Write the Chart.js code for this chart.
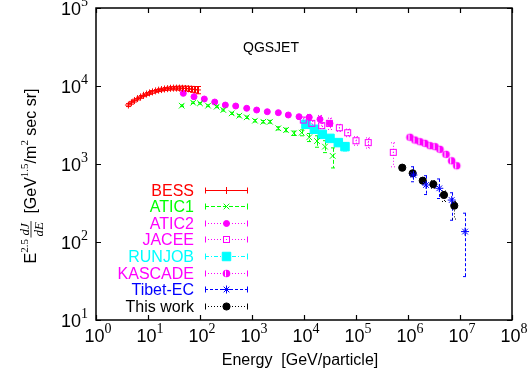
<!DOCTYPE html>
<html>
<head>
<meta charset="utf-8">
<script src="https://cdn.jsdelivr.net/npm/chart.js@4.4.1/dist/chart.umd.min.js"></script>
<style>
  body { margin: 0; background: #fff; }
  canvas { display: block; }
</style>
</head>
<body>
<canvas id="chart" width="530" height="374"></canvas>
<script>
// Energy [GeV/particle] and E^2.5 dJ/dE values

const bessE = [4.2, 4.8, 5.5, 6.3, 7.2, 8.2, 9.4, 10.7, 12.2, 14.0, 16.0, 18.2, 20.8, 23.8, 27.1, 31.0, 35.4, 40.4, 46.1, 52.7, 60.2, 68.7, 78.5, 89.6];
const bessF = [5700, 6100, 6500, 6900, 7250, 7600, 7900, 8150, 8400, 8650, 8850, 9000, 9150, 9250, 9350, 9400, 9400, 9400, 9350, 9300, 9200, 9100, 9000, 8900];
const bessErr = [250, 250, 260, 280, 290, 300, 320, 330, 340, 350, 360, 380, 400, 420, 450, 480, 520, 560, 600, 650, 700, 780, 850, 950];

const atic1E = [44.5, 74, 100, 143, 209, 281, 407, 570, 791, 1140, 1650, 2220, 3210, 4510, 6420, 9030, 12600, 17800, 25300, 35600];
const atic1F = [5590, 6110, 6000, 5590, 5430, 4920, 4460, 4160, 3970, 3590, 3480, 3480, 2870, 2730, 2480, 2520, 2200, 1970, 1670, 1270];
const atic1Up = [150, 150, 150, 150, 150, 150, 140, 140, 140, 130, 130, 140, 130, 140, 160, 220, 260, 330, 320, 340];
const atic1Dn = [150, 150, 150, 150, 150, 150, 140, 140, 140, 130, 130, 140, 130, 140, 160, 220, 260, 330, 270, 380];

const atic2E = [47.7, 76.7, 121, 192, 307, 486, 791, 1230, 1970, 3210, 4990, 8020, 12600, 20300, 31600];
const atic2F = [8050, 7290, 6810, 6230, 5700, 5540, 5180, 4920, 4680, 4550, 4250, 4040, 3970, 3740, 3320];
const atic2Err = [250, 220, 200, 180, 170, 170, 160, 160, 160, 170, 180, 250, 350, 450, 550];

const jaceeE = [9700, 14100, 21900, 30700, 47800, 69200, 100000, 172000, 521000];
const jaceeF = [3660, 3320, 3100, 3320, 2920, 2520, 1990, 1880, 1410];
const jaceeUp = [250, 250, 250, 300, 300, 280, 250, 280, 460];
const jaceeDn = [250, 250, 250, 300, 300, 280, 250, 280, 490];

const runjobE = [10900, 15800, 22500, 31600, 45700, 61400];
const runjobF = [3230, 2790, 2400, 2130, 1880, 1670];
const runjobErr = [200, 200, 180, 170, 160, 200];

const kascadeE = [1.09e6, 1.36e6, 1.70e6, 2.12e6, 2.65e6, 3.31e6, 4.12e6, 5.38e6, 6.92e6, 8.64e6];
const kascadeF = [2200, 2030, 1930, 1840, 1720, 1670, 1540, 1330, 1100, 950];
const kascadeErr = [60, 60, 60, 60, 60, 60, 60, 60, 60, 60];

const tibetE = [1.27e6, 2.22e6, 4.0e6, 6.92e6, 1.25e7];
const tibetF = [722, 538, 488, 345, 136];
const tibetUp = [200, 170, 155, 83, 98];
const tibetDn = [130, 132, 127, 155, 100];

const thisE = [7.76e5, 1.23e6, 1.92e6, 3.07e6, 4.92e6, 7.76e6];
const thisF = [897, 760, 611, 550, 401, 292];
const thisUp = [40, 40, 55, 60, 50, 40];
const thisDn = [40, 40, 50, 60, 70, 95];

// axis decades
const xDecades = [0, 1, 2, 3, 4, 5, 6, 7, 8];
const yDecades = [1, 2, 3, 4, 5];

const SANS = '"Liberation Sans", Arial, Helvetica, sans-serif';
const SERIF = '"Liberation Serif", "Times New Roman", serif';

// Custom point shapes
function makeMarker(draw) {
    const c = document.createElement('canvas');
    c.width = 11; c.height = 11;
    draw(c.getContext('2d'));
    return c;
}

const jaceeMarker = makeMarker(g => {
    g.strokeStyle = '#ff00ff';
    g.fillStyle = '#ff00ff';
    g.lineWidth = 1;
    g.strokeRect(2.5, 2.5, 6, 6);
    g.fillRect(5, 5, 1, 1);
});

const kascadeMarker = makeMarker(g => {
    g.fillStyle = '#ff00ff';
    g.beginPath();
    g.arc(5.5, 5.5, 3.8, 0, Math.PI * 2);
    g.fill();
    g.fillStyle = '#ffffff';
    g.fillRect(4, 2.5, 1, 6);
});

const SERIES = [
    { label: 'BESS', E: bessE, F: bessF, up: bessErr, dn: bessErr, color: '#ff0000', dash: [], style: 'cross', r: 3.5 },
    { label: 'ATIC1', E: atic1E, F: atic1F, up: atic1Up, dn: atic1Dn, color: '#00ff00', dash: [4, 2], style: 'crossRot', r: 4 },
    { label: 'ATIC2', E: atic2E, F: atic2F, up: atic2Err, dn: atic2Err, color: '#ff00ff', dash: [1, 2], style: 'circle', r: 3 },
    { label: 'JACEE', E: jaceeE, F: jaceeF, up: jaceeUp, dn: jaceeDn, color: '#ff00ff', dash: [1, 2], style: jaceeMarker, r: 4 },
    { label: 'RUNJOB', E: runjobE, F: runjobF, up: runjobErr, dn: runjobErr, color: '#00ffff', dash: [4, 2, 1, 2], style: 'rect', r: 6 },
    { label: 'KASCADE', E: kascadeE, F: kascadeF, up: kascadeErr, dn: kascadeErr, color: '#ff00ff', dash: [1, 2], style: kascadeMarker, r: 4 },
    { label: 'Tibet-EC', E: tibetE, F: tibetF, up: tibetUp, dn: tibetDn, color: '#0000ff', dash: [3, 2], style: 'star', r: 4 },
    { label: 'This work', E: thisE, F: thisF, up: thisUp, dn: thisDn, color: '#000000', dash: [1, 2], style: 'circle', r: 3.6 }
];

// Error bars drawn through the chart scales
const errorBars = {
    id: 'errorBars',
    beforeDatasetsDraw(chart) {
        const { ctx, chartArea: a, scales: { x, y } } = chart;
        ctx.save();
        ctx.beginPath();
        ctx.rect(a.left, a.top, a.right - a.left, a.bottom - a.top);
        ctx.clip();
        ctx.lineWidth = 1;
        SERIES.forEach(s => {
            ctx.strokeStyle = s.color;
            ctx.setLineDash(s.dash);
            s.E.forEach((e, i) => {
                const px = Math.round(x.getPixelForValue(e)) + 0.5;
                const top = y.getPixelForValue(s.F[i] + s.up[i]);
                const bot = y.getPixelForValue(s.F[i] - s.dn[i]);
                ctx.beginPath();
                ctx.moveTo(px, top); ctx.lineTo(px, bot);
                ctx.moveTo(px - 2.5, top); ctx.lineTo(px + 2.5, top);
                ctx.moveTo(px - 2.5, bot); ctx.lineTo(px + 2.5, bot);
                ctx.stroke();
            });
        });
        ctx.restore();
    }
};

// draw "10" with a raised exponent; align: 'right' or 'center'
function powerLabel(ctx, exp, x, y, align) {
    ctx.font = '18px ' + SANS;
    const base = ctx.measureText('10').width;
    ctx.font = '14px ' + SERIF;
    const sup = ctx.measureText(String(exp)).width;
    const total = base + sup;
    const x0 = align === 'right' ? x - total : x - total / 2;
    ctx.textAlign = 'left';
    ctx.font = '18px ' + SANS;
    ctx.fillText('10', x0, y);
    ctx.font = '14px ' + SERIF;
    ctx.fillText(String(exp), x0 + base, y - 9);
}

// Frame, ticks, labels, title and legend
const frame = {
    id: 'frame',
    afterDraw(chart) {
        const { ctx, chartArea: a, scales: { x, y } } = chart;
        ctx.save();
        ctx.strokeStyle = '#000';
        ctx.fillStyle = '#000';
        ctx.setLineDash([]);
        ctx.lineWidth = 1.5;
        ctx.strokeRect(a.left, a.top, a.right - a.left, a.bottom - a.top);

        // inward ticks on all sides
        ctx.lineWidth = 1.2;
        ctx.beginPath();
        xDecades.forEach(d => {
            const px = Math.round(x.getPixelForValue(Math.pow(10, d))) + 0.5;
            ctx.moveTo(px, a.bottom); ctx.lineTo(px, a.bottom - 5);
            ctx.moveTo(px, a.top); ctx.lineTo(px, a.top + 5);
        });
        yDecades.forEach(d => {
            const py = Math.round(y.getPixelForValue(Math.pow(10, d))) + 0.5;
            ctx.moveTo(a.left, py); ctx.lineTo(a.left + 5, py);
            ctx.moveTo(a.right, py); ctx.lineTo(a.right - 5, py);
        });
        ctx.stroke();

        // tick labels
        ctx.fillStyle = '#000';
        ctx.textBaseline = 'alphabetic';
        xDecades.forEach(d => {
            powerLabel(ctx, d, x.getPixelForValue(Math.pow(10, d)) + 2, a.bottom + 22, 'center');
        });
        yDecades.forEach(d => {
            powerLabel(ctx, d, a.left - 8, y.getPixelForValue(Math.pow(10, d)) + 6.5, 'right');
        });

        // title inside the frame
        ctx.font = '14px ' + SANS;
        ctx.textAlign = 'center';
        ctx.fillText('QGSJET', 271, 52);

        // x axis title
        ctx.font = '16px ' + SANS;
        ctx.fillText('Energy  [GeV/particle]', 300, 365);

        // y axis title, rotated
        drawYTitle(ctx, 36, 176);

        // legend
        SERIES.forEach((s, i) => {
            const ly = 189.5 + i * 16.6;
            ctx.font = '16px ' + SANS;
            ctx.textAlign = 'right';
            ctx.fillStyle = s.color;
            ctx.fillText(s.label, 194, ly + 6);
            ctx.strokeStyle = s.color;
            ctx.lineWidth = 1;
            ctx.setLineDash(s.dash);
            const yy = Math.round(ly) + 0.5;
            ctx.beginPath();
            ctx.moveTo(205, yy); ctx.lineTo(248, yy);
            ctx.stroke();
            ctx.setLineDash([]);
            ctx.beginPath();
            ctx.moveTo(205.5, yy - 3); ctx.lineTo(205.5, yy + 3);
            ctx.moveTo(247.5, yy - 3); ctx.lineTo(247.5, yy + 3);
            ctx.stroke();
            ctx.fillStyle = s.color;
            Chart.helpers.drawPoint(ctx, {
                pointStyle: s.style, radius: s.r, rotation: 0, borderWidth: 1
            }, 226.5, yy);
        });
        ctx.restore();
    }
};

function drawYTitle(ctx, bx, cy) {
    const parts = [
        { t: 'E', f: '16px ' + SANS, dy: 0 },
        { t: '2.5', f: '11px ' + SERIF, dy: -8 },
        { frac: true },
        { t: '[GeV', f: '16px ' + SANS, dy: 0, gap: 6 },
        { t: '1.5', f: '11px ' + SERIF, dy: -8 },
        { t: '/m', f: '16px ' + SANS, dy: 0 },
        { t: '2', f: '11px ' + SERIF, dy: -8 },
        { t: ' sec sr]', f: '16px ' + SANS, dy: 0 }
    ];
    const fracFont = 'italic 13px ' + SERIF;
    ctx.font = fracFont;
    const fracW = Math.max(ctx.measureText('dJ').width, ctx.measureText('dE').width) + 2;
    let total = 0;
    parts.forEach(p => {
        if (p.frac) { p.w = fracW + 3; }
        else { ctx.font = p.f; p.w = ctx.measureText(p.t).width + (p.gap || 0); }
        total += p.w;
    });
    ctx.save();
    ctx.translate(bx, cy);
    ctx.rotate(-Math.PI / 2);
    ctx.fillStyle = '#000';
    ctx.strokeStyle = '#000';
    ctx.textAlign = 'left';
    let cx = -total / 2;
    parts.forEach(p => {
        if (p.frac) {
            const mid = cx + 1.5 + fracW / 2;
            ctx.font = fracFont;
            ctx.textAlign = 'center';
            ctx.fillText('dJ', mid, -7.5);
            ctx.fillText('dE', mid, 6.5);
            ctx.lineWidth = 0.8;
            ctx.beginPath();
            ctx.moveTo(cx + 1.5, -5); ctx.lineTo(cx + 1.5 + fracW, -5);
            ctx.stroke();
            ctx.textAlign = 'left';
        } else {
            ctx.font = p.f;
            ctx.fillText(p.t, cx + (p.gap || 0), p.dy);
        }
        cx += p.w;
    });
    ctx.restore();
}

const datasets = SERIES.map(s => ({
    label: s.label,
    data: s.E.map((e, i) => ({ x: e, y: s.F[i] })),
    showLine: false,
    pointStyle: s.style,
    pointRadius: s.r,
    pointBorderWidth: 1,
    borderColor: s.color,
    backgroundColor: s.color
}));

new Chart(document.getElementById('chart').getContext('2d'), {
    type: 'scatter',
    data: { datasets },
    options: {
        responsive: false,
        animation: false,
        devicePixelRatio: 1,
        layout: { padding: { left: 96, right: 18, top: 8, bottom: 54 } },
        plugins: {
            legend: { display: false },
            tooltip: { enabled: false }
        },
        scales: {
            x: { type: 'logarithmic', min: 1, max: 1e8, display: false },
            y: { type: 'logarithmic', min: 10, max: 1e5, display: false }
        }
    },
    plugins: [errorBars, frame]
});
</script>
</body>
</html>
